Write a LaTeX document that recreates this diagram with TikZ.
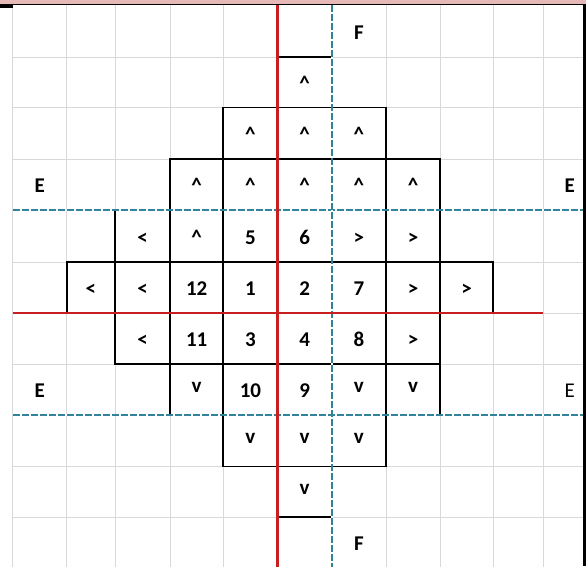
\documentclass[tikz,border=0pt]{standalone}
\usepackage{fontspec}
\setmainfont{Carlito}
\usetikzlibrary{calc}
\definecolor{gridgray}{RGB}{216,216,216}
\definecolor{redaxis}{RGB}{200,30,30}
\definecolor{blueaxis}{RGB}{49,130,155}
\definecolor{toppink}{RGB}{230,185,184}
\newcommand\arrup{\textasciicircum}
\newcommand\arrdn{\raisebox{5.5pt}{v}}

\begin{document}
\begin{tikzpicture}[x=1pt, y=-1pt,
  gridline/.style={gridgray, line width=1pt},
  cellbox/.style={black, line width=1.8pt},
  redline/.style={redaxis, line width=2.8pt},
  blueline/.style={blueaxis, line width=1.6pt, dash pattern=on 7pt off 2pt},
  lbl/.style={font=\fontsize{21}{21}\selectfont\bfseries, inner sep=0pt, anchor=base}]
  \useasboundingbox (0,0) rectangle (586,566);
  % column and row lines of the sheet
  \foreach \n/\v in {0/12.7,1/66.7,2/115,3/170,4/223.3,5/277.5,6/331.7,7/386,8/440,9/493.3,10/543.3,11/584}
    \coordinate (c\n) at (\v,0);
  \foreach \n/\v in {0/5,1/57,2/107.5,3/159,4/210,5/262,6/313,7/364,8/415,9/466.5,10/517,11/568}
    \coordinate (r\n) at (0,\v);

  \fill[toppink] (0,0) rectangle (586,4);
  \foreach \n in {0,...,10} \draw[gridline] (c\n|-r0) -- (c\n|-r11);
  \foreach \n in {1,...,10} \draw[gridline] (c0|-r\n) -- (c11|-r\n);
  \draw[line width=1.2pt] (0,4.6) -- (586,4.6);
  \fill (0,3.5) rectangle (12.7,8);
  \fill (583,3.5) rectangle (586,566);

  % the bordered cells
  \foreach \i/\j/\t [evaluate=\i as \ii using int(\i+1), evaluate=\j as \jj using int(\j+1)] in
    {5/1/\arrup,
     4/2/\arrup, 5/2/\arrup, 6/2/\arrup,
     3/3/\arrup, 4/3/\arrup, 5/3/\arrup, 6/3/\arrup, 7/3/\arrup,
     2/4/<, 3/4/\arrup, 4/4/5, 5/4/6, 6/4/>, 7/4/>,
     1/5/<, 2/5/<, 3/5/12, 4/5/1, 5/5/2, 6/5/7, 7/5/>, 8/5/>,
     2/6/<, 3/6/11, 4/6/3, 5/6/4, 6/6/8, 7/6/>,
     3/7/\arrdn, 4/7/10, 5/7/9, 6/7/\arrdn, 7/7/\arrdn,
     4/8/\arrdn, 5/8/\arrdn, 6/8/\arrdn,
     5/9/\arrdn} {
    \draw[cellbox] (c\i|-r\j) rectangle (c\ii|-r\jj);
    \node[lbl] (t\i-\j) at ($(c\i|-r\j)!0.5!(c\ii|-r\jj)+(0,8)$) {\t};
  }

  % dashed blue axes, then the red ones on top
  \foreach \n in {4,8} {
    \draw[white, line width=1.6pt] (c0|-r\n) -- (583,0|-r\n);
    \draw[blueline] (c0|-r\n) -- (583,0|-r\n);
  }
  \draw[white, line width=1.6pt] (c6|-r0) -- (c6|-r11);
  \draw[blueline] (c6|-r0) -- (c6|-r11);
  \draw[redline] (c5|-r0) -- (c5|-r11);
  \draw[redline] (c0|-r6) -- (c10|-r6);

  \node[lbl] (fTop) at ($(c6|-r0)!0.5!(c7|-r1)+(0,8)$) {F};
  \node[lbl] (fBot) at ($(c6|-r10)!0.5!(c7|-r11)+(0,8)$) {F};
  \node[lbl] (eTopL) at ($(c0|-r3)!0.5!(c1|-r4)+(0,8)$) {E};
  \node[lbl] (eTopR) at ($(c10|-r3)!0.5!(c11|-r4)+(6,8)$) {E};
  \node[lbl] (eBotL) at ($(c0|-r7)!0.5!(c1|-r8)+(0,8)$) {E};
  \node[lbl, font=\fontsize{21}{21}\selectfont] (eBotR) at ($(c10|-r7)!0.5!(c11|-r8)+(6,8)$) {E};
\end{tikzpicture}
\end{document}
